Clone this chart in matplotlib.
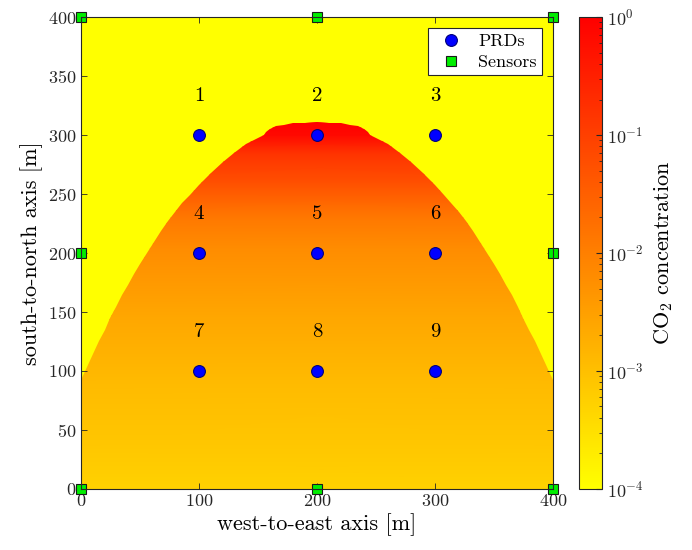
import numpy as np
import matplotlib
matplotlib.use("Agg")
import matplotlib.pyplot as plt
from matplotlib.colors import LogNorm
from matplotlib.patches import Polygon

plt.rcParams['font.family'] = 'serif'
plt.rcParams['font.serif'] = ['cmr10']
plt.rcParams['mathtext.fontset'] = 'cm'
plt.rcParams['axes.unicode_minus'] = False
plt.rcParams['axes.formatter.use_mathtext'] = True

# PRD locations and labels
prd_x = [100, 200, 300, 100, 200, 300, 100, 200, 300]
prd_y = [300, 300, 300, 200, 200, 200, 100, 100, 100]
prd_lab = ['1', '2', '3', '4', '5', '6', '7', '8', '9']

# sensor locations
sens_x = [0, 200, 400, 0, 400, 0, 200, 400]
sens_y = [0, 0, 0, 200, 200, 400, 400, 400]

# plume edge, west half (east half is mirrored)
edge_x = [0, 5, 10, 15, 20, 25, 30, 35, 40, 45, 50, 56, 62, 68, 74, 80, 86, 92,
          100, 110, 120, 130, 140, 148, 155, 157, 160, 165, 172, 180, 190, 200]
edge_y = [92, 103.5, 114.5, 125, 135, 145, 154.5, 164, 173, 182, 190.5, 200,
          209.5, 218.5, 227, 235, 242.5, 249.5, 258, 268, 277, 285, 292, 297,
          300, 302.5, 305, 307.3, 308.9, 309.9, 310.6, 311]

# concentration vs height inside the plume
lev_y = [0, 35, 91, 147, 204, 230, 260, 285, 300, 311, 320]
lev_c = [5.2e-4, 7.6e-4, 1.2e-3, 2.5e-3, 6.3e-3, 1.3e-2, 5.8e-2, 0.16, 0.7, 1.0, 1.0]

cmap = plt.get_cmap('autumn_r')
norm = LogNorm(vmin=1e-4, vmax=1)

fig = plt.figure(figsize=(6.92, 5.5), dpi=100)
ax = fig.add_axes([0.117, 0.111, 0.682, 0.858])
cax = fig.add_axes([0.837, 0.111, 0.033, 0.858])

ax.set_facecolor(cmap(0.0))

X, Y = np.meshgrid([0, 400], lev_y)
C = np.repeat(np.array(lev_c)[:, None], 2, axis=1)
mesh = ax.pcolormesh(X, Y, C, shading='gouraud', cmap=cmap, norm=norm, zorder=1)

ex = np.array(edge_x, dtype=float)
ey = np.array(edge_y, dtype=float)
px = np.concatenate([ex, 400 - ex[::-1][1:], [400, 0]])
py = np.concatenate([ey, ey[::-1][1:], [0, 0]])
poly = Polygon(np.column_stack([px, py]), closed=True, transform=ax.transData,
               facecolor='none', edgecolor='none')
ax.add_patch(poly)
mesh.set_clip_path(poly)

ax.plot(prd_x, prd_y, 'o', color='#0000ff', markeredgecolor='#00007a',
        markersize=8.5, markeredgewidth=0.8, linestyle='none', label='PRDs', zorder=3)
ax.plot(sens_x, sens_y, 's', color='#00ee00', markeredgecolor='#1a1a1a',
        markersize=7.5, markeredgewidth=0.8, linestyle='none', label='Sensors',
        clip_on=False, zorder=3)
for x, y, s in zip(prd_x, prd_y, prd_lab):
    ax.text(x, y + 33, s, ha='center', va='center', fontsize=15)

ax.set_xlim(0, 400)
ax.set_ylim(0, 400)
ax.set_xticks([0, 100, 200, 300, 400])
ax.set_yticks([0, 50, 100, 150, 200, 250, 300, 350, 400])
ax.tick_params(direction='in', top=True, right=True, labelsize=13, length=4,
               width=0.6, colors='#262626', pad=3)
for sp in ax.spines.values():
    sp.set_linewidth(0.8)
    sp.set_color('#262626')
    sp.set_zorder(4)
ax.set_xlabel('west-to-east axis [m]', fontsize=16, labelpad=3)
ax.set_ylabel('south-to-north axis [m]', fontsize=16, labelpad=4)

leg = ax.legend(loc='upper right', fontsize=13, frameon=True, fancybox=False,
                framealpha=1, edgecolor='#262626', borderaxespad=0.6,
                handletextpad=0.5, borderpad=0.3, labelspacing=0.3)
leg.get_frame().set_linewidth(0.8)

cb = fig.colorbar(mesh, cax=cax)
cb.set_label('CO$_2$ concentration', fontsize=16, labelpad=6)
cb.ax.tick_params(which='both', direction='in', labelsize=13, colors='#262626')
cb.ax.tick_params(which='major', length=4)
cb.ax.tick_params(which='minor', length=2)
cb.outline.set_linewidth(0.8)
cb.outline.set_edgecolor('#262626')

fig.savefig('out.png', dpi=100)
